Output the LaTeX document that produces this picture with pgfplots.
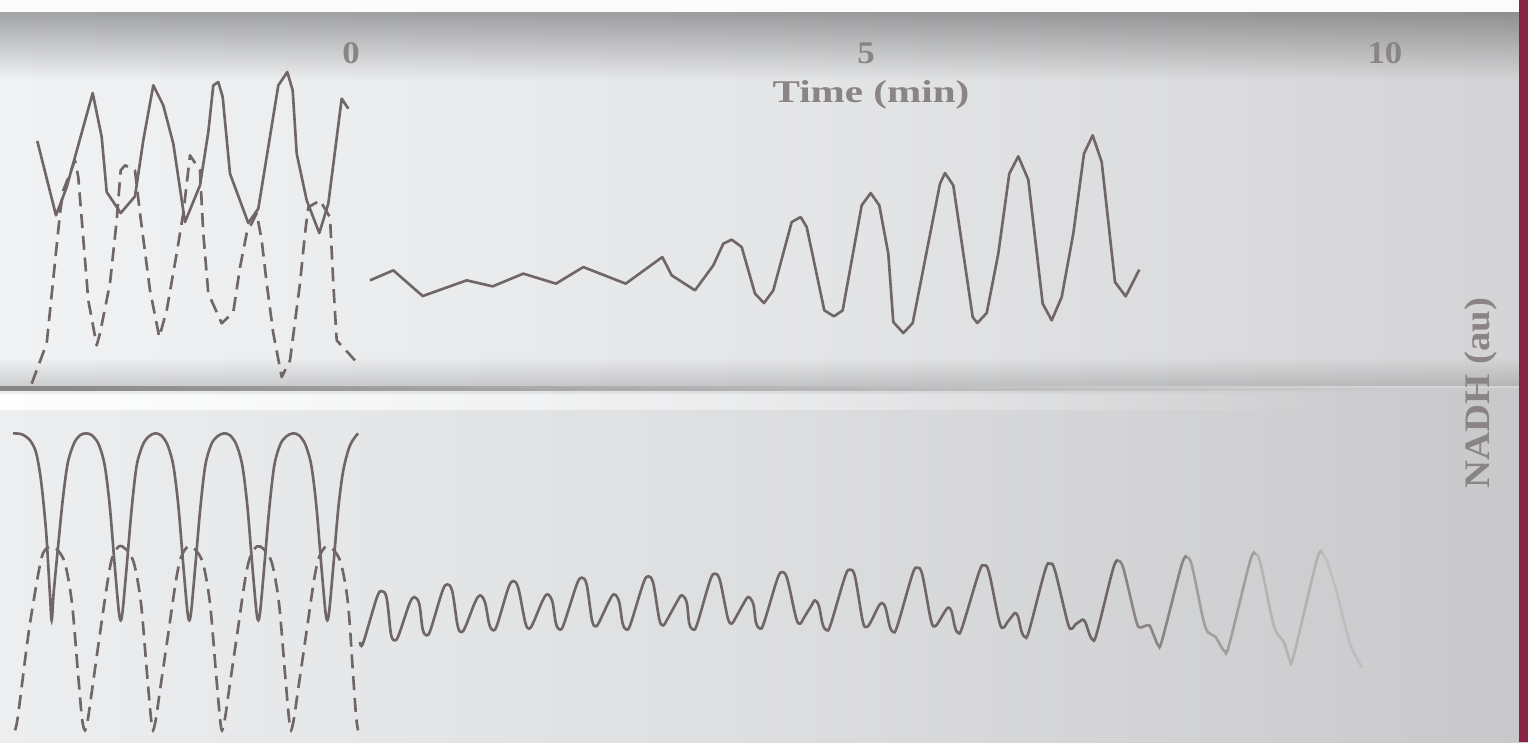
\documentclass[border=0pt]{standalone}
\usepackage{pgfplots}
\pgfplotsset{compat=1.18}
\usepackage{fontspec}
\setmainfont{Liberation Serif}
\usetikzlibrary{fadings}
\definecolor{curve}{RGB}{112,102,102}
\definecolor{txt}{RGB}{138,132,133}
\definecolor{strip}{RGB}{138,35,65}
\definecolor{pTopL}{RGB}{240,242,244}
\definecolor{pTopM}{RGB}{229,230,232}
\definecolor{pTopR}{RGB}{212,212,214}
\definecolor{pBotL}{RGB}{236,238,240}
\definecolor{pBotM}{RGB}{221,222,224}
\definecolor{pBotR}{RGB}{200,200,202}
\begin{document}
\begin{tikzpicture}
\begin{scope}[x=0.1mm,y=0.1mm]
  \shade[left color=pTopL, right color=pTopR, middle color=pTopM] (0,354) rectangle (1528,730);
  \shade[left color=pBotL, right color=pBotR, middle color=pBotM] (0,0) rectangle (1528,354);
  \fill[black, opacity=0.32, path fading=south] (0,730) rectangle (1528,662);
  \fill[white!97!gray] (0,730) rectangle (1528,742);
  \fill[black, opacity=0.15, path fading=north] (0,356) rectangle (1528,385);
  \fill[black!55, opacity=0.85, path fading=east] (0,351) rectangle (1420,356);
  \fill[white, opacity=0.9, path fading=east] (0,332) rectangle (1350,348);
  \fill[strip] (1519,0) rectangle (1528,742);
\end{scope}
\begin{axis}[
  at={(0,0)}, anchor=south west,
  scale only axis, width=152.8mm, height=74.2mm,
  xmin=0, xmax=1528, ymin=0, ymax=742, y dir=reverse,
  axis line style={draw=none},
  ytick=\empty,
  xtick={351,866,1385},
  xticklabels={\scalebox{1.1}[1]{0},\scalebox{1.1}[1]{5},\scalebox{1.1}[1]{10}},
  major tick length=0pt,
  xticklabel style={anchor=base, yshift=67.9mm, font=\fontsize{9}{10}\selectfont\bfseries, text=txt},
  no markers, clip=false,
]
% top panel, left: solid trace
\addplot[curve, line width=0.75pt, line join=round] coordinates {
(37.3,140.7) (56,215) (66.7,186.7) (92.7,92.7) (101.7,136.7) (106.7,191.7)
(120.7,212.7) (135,196) (143.3,140) (153.3,85) (163.3,105) (173.3,143.3)
(185,221.7) (200,185) (208.3,131.7) (213.3,85) (218.3,81.7) (222.7,96.7)
(230,173.3) (248.3,222.7) (258.3,208.3) (268.3,146.7) (278.3,85) (287.3,71.7)
(292.7,90) (296.7,153.3) (306.7,200) (319.3,232.7) (328.3,203.3) (341.7,98.3)
(348.3,108.3)};
% top panel, left: dashed trace
\addplot[curve, line width=0.75pt, line join=round, dash pattern=on 4pt off 2.2pt] coordinates {
(31.7,383.3) (46.7,343) (60,213) (63.3,190) (75,160) (78.3,176.7) (88.3,300)
(96.7,345) (100,333) (110,283) (116.7,220) (120.7,170) (125,165) (135,170)
(140,213) (150,290) (159.3,336.7) (166.7,310) (176.7,253) (183.3,213) (190,155)
(200,170) (203.3,233) (208.3,293) (221.7,323) (233.3,311.7) (240,267) (246.7,233)
(256.7,213) (261.7,240) (266.7,283) (273.3,333) (281.7,376.7) (290,360) (300,283)
(305,233) (308.3,207) (320,200) (330,217) (333.3,283) (336.7,340) (355,360)};
% top panel, right: time series
\addplot[curve, line width=0.75pt, line join=round] coordinates {
(370,280) (393.3,270) (422.7,295.7) (466.7,280) (492.7,286) (523.3,273.3)
(556,283.3) (583.3,266.7) (625.7,283.3) (662.3,256.7) (671.7,275) (695,290)
(713.3,265) (723.3,243.3) (731.7,239.3) (741.7,246.7) (755,293.3) (764,302.7)
(773.3,290) (791.7,221.7) (800.7,216.7) (806.7,226.7) (824.3,310) (834,316)
(842.7,310) (861.7,205) (870.7,192.7) (879.3,205) (888.3,253.3) (893.3,321.7)
(903.3,332.7) (912.7,322.7) (940,183.3) (945,172.7) (953.3,185) (972.7,316.7)
(977.3,322.7) (986.7,312.7) (998.3,253.3) (1009.3,173.3) (1018.3,156)
(1028.3,179.3) (1042.7,303.3) (1051.7,320) (1061.7,296.7) (1073.3,233.3)
(1084,153.3) (1092.7,135) (1101.7,161.7) (1115,281.7) (1125.7,296) (1139.3,269.3)};
% bottom panel, left: solid trace
\addplot[curve, line width=0.75pt, smooth, tension=0.5] coordinates {
(13,433) (22,434) (30,440) (36,452) (41,480) (46,530) (49.7,590) (51.7,620)
(53.7,592) (57.7,550) (62.7,500) (67.7,463) (74,443) (80,435) (86,433) (92,435)
(98.7,444) (104.7,465) (109.7,505) (114.7,565) (118.7,610) (120.7,620) (122.7,610)
(126.7,566) (131.7,508) (136.7,465) (143,444) (149,436) (155,433) (161,435)
(167.3,444) (173.3,465) (178.3,505) (183.3,565) (187.3,610) (189.3,620) (191.3,610)
(195.3,566) (200.3,508) (205.3,465) (211.3,444) (217.3,436) (224,433) (230,435)
(236.3,444) (242.3,465) (247.3,505) (252.3,565) (256.3,610) (258.3,620) (260.3,610)
(264.3,566) (269.3,508) (274.3,465) (280.3,444) (286.3,436) (293,433) (299,435)
(305.3,444) (311.3,465) (316.3,505) (321.3,565) (325.3,610) (327.3,620) (329.3,610)
(333.3,566) (338.3,508) (343.3,470) (350,445) (358,433)};
% bottom panel, left: dashed trace
\addplot[curve, line width=0.75pt, smooth, tension=0.5, dash pattern=on 4pt off 2.2pt] coordinates {
(15,730) (17,722) (20,700) (25,660) (30,623) (38,575) (43,553) (50,546) (57,549)
(65,563) (72,603) (78,673) (82,718) (85,730) (88,718) (92,690) (99,640) (107,585)
(112,558) (119,546) (126,549) (134,563) (141,603) (147,673) (151,718) (153,730)
(156,718) (160,690) (168,635) (176,580) (181,557) (188,546) (195,549) (203,563)
(210,603) (216,673) (220,718) (222,730) (225,718) (229,690) (237,635) (245,580)
(250,557) (257,546) (264,549) (272,563) (279,603) (285,673) (289,718) (291,730)
(294,718) (298,690) (306,635) (314,580) (319,557) (326,546) (333,549) (341,563)
(348,603) (353,673) (356,715) (358,730)};
% bottom panel, right: time series (fading out)
\addplot[curve, line width=0.75pt, smooth, tension=0.55] coordinates {
(360,641.7) (363,643)
(376.7,597.7) (381.7,590.7) (386.7,597.7) (391,634) (395,640) (399,634)
(409.3,603.7) (414.3,596.7) (419.3,603.7) (422.7,629) (426.7,635) (430.7,629)
(442.3,591) (447.3,584) (452.3,591) (457.7,625.7) (461.7,631.7) (465.7,625.7)
(475,602) (480,595) (485,602) (489.3,624) (493.3,630) (497.3,624)
(508.3,587.7) (513.3,580.7) (518.3,587.7) (525.3,622.3) (529.3,628.3) (533.3,622.3)
(542.3,601) (547.3,594) (552.3,601) (556,623.3) (560,629.3) (564,623.3)
(576.7,584.3) (581.7,577.3) (586.7,584.3) (592,620) (596,626) (600,620)
(609,601) (614,594) (619,601) (622.7,623.3) (626.7,629.3) (630.7,623.3)
(643.3,583) (648.3,576) (653.3,583) (659.3,619) (663.3,625) (667.3,619)
(676.7,602) (681.7,595) (686.7,602) (689.3,623.3) (693.3,629.3) (697.3,623.3)
(710,580.3) (715,573.3) (720,580.3) (727.7,617.3) (731.7,623.3) (735.7,617.3)
(743.3,603.7) (748.3,596.7) (753.3,603.7) (756,622.3) (760,628.3) (764,622.3)
(777.3,578.7) (782.3,571.7) (787.3,578.7) (796,617.3) (800,623.3) (804,617.3)
(811,606) (815,600) (819,606) (822.7,624) (826.7,630) (830.7,624)
(845,576.3) (850,569.3) (855,576.3) (862.7,620.7) (866.7,626.7) (870.7,621.7)
(878,607) (881.7,602.7) (885.4,607) (889.8,626) (893.3,631.7) (897.3,625.7)
(912.3,574.3) (917.3,567.3) (922.3,574.3) (931,620) (935,626) (939,621)
(945,611) (948.3,607.3) (951.6,611) (955,627) (958.3,632.7) (962.3,626.7)
(979,572) (984,565) (989,572) (999.3,621.3) (1003.3,627.3) (1007.3,622)
(1012,616) (1015,612.7) (1018,616) (1021.5,631) (1025,636.7) (1029,630.7)
(1045,570.3) (1050,563.3) (1055,570.3) (1067.7,622.3) (1071.7,628.3) (1075.5,624)
(1080,621) (1082.7,619.3) (1085.4,622) (1089.5,634) (1092.7,639.3) (1096.7,633.3)
(1113.3,567.7) (1118.3,560.7)};
\addplot[curve, line width=0.75pt, smooth, tension=0.55, opacity=0.72] coordinates {
(1118.3,560.7) (1123.3,567.7) (1136,620) (1140,627) (1144,626) (1149.3,625)
(1153,633) (1158.3,645) (1162.3,639) (1181.7,564.3) (1186.7,557.3)};
\addplot[curve, line width=0.75pt, smooth, tension=0.55, opacity=0.48] coordinates {
(1186.7,557.3) (1191.7,564.3) (1203,618) (1208,632) (1215,636) (1221,646)
(1225,651) (1229,645) (1250,561) (1255,554)};
\addplot[curve, line width=0.75pt, smooth, tension=0.55, opacity=0.27] coordinates {
(1255,554) (1260,561) (1272,618) (1277,633) (1284,642) (1290,660) (1294,654)
(1316.7,560) (1321.7,553)};
\addplot[curve, line width=0.75pt, smooth, tension=0.55, opacity=0.15] coordinates {
(1321.7,553) (1326.7,560) (1337,593) (1350,643) (1362,667)};
\node[anchor=base, text=txt, font=\fontsize{9}{10}\selectfont\bfseries] at (axis cs:871,102) {\scalebox{1.3}[1]{Time (min)}};
\node[anchor=base, rotate=90, text=txt, font=\fontsize{8.5}{10}\selectfont\bfseries] at (axis cs:1490,393) {\scalebox{1.3}[1.2]{NADH (au)}};
\end{axis}
\end{tikzpicture}
\end{document}
